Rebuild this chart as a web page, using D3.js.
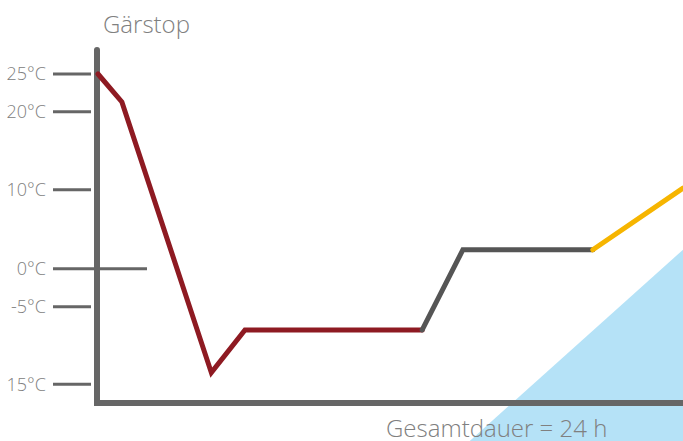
<!DOCTYPE html>
<html>
<head>
<meta charset="utf-8">
<script src="https://cdn.jsdelivr.net/npm/d3@7"></script>
<style>
  body { margin: 0; background: #fff; }
  svg { display: block; font-family: "Open Sans", sans-serif; }
</style>
</head>
<body>
<svg id="viz" width="683" height="441"></svg>
<script>
// temperature ticks (value, label) - the bottom label reads "15°C" in the original
const tickValues = [25, 20, 10, 0, -5, -15];
const tickLabels = ["25°C", "20°C", "10°C", "0°C", "-5°C", "15°C"];

// hours / °C
const redLine = [[0, 25], [0.98, 21.3], [4.65, -13.5], [6.03, -8], [13.3, -8]];
const grayLine = [[13.3, -8], [14.97, 2.4], [20.3, 2.4]];
const yellowLine = [[20.3, 2.4], [24, 10.2]];
const blueArea = [[15.25, -22.3], [24, 2.4], [24, -22.3]];

const W = 683, H = 441;
const C = { axis: "#666", text: "#808080", red: "#8e1a22", gray: "#555", yellow: "#f6b500", blue: "#b5e2f7" };

const svg = d3.select("#viz");

const x = d3.scaleLinear().domain([0, 24]).range([98, 683]);
// ticks in the original are not evenly spaced, so use a piecewise scale
const y = d3.scaleLinear()
    .domain([-15, -5, 0, 10, 20, 25])
    .range([384.3, 306.7, 268.7, 189.7, 111.7, 74]);

const line = d3.line().x(d => x(d[0])).y(d => y(d[1]));

// background triangle
svg.append("path")
    .attr("d", line(blueArea) + "Z")
    .attr("fill", C.blue);

// tick marks + labels
const tick = svg.append("g").selectAll("g")
    .data(tickValues)
    .join("g")
    .attr("transform", d => `translate(0,${y(d)})`);

tick.append("line")
    .attr("x1", 53)
    .attr("x2", d => d === 0 ? 147 : 91)
    .attr("stroke", C.axis)
    .attr("stroke-width", 3);

tick.append("text")
    .attr("x", 46)
    .attr("dy", "0.36em")
    .attr("text-anchor", "end")
    .attr("fill", C.text)
    .style("font-size", "18px")
    .style("font-weight", 300)
    .text((d, i) => tickLabels[i]);

// axes
svg.append("path")
    .attr("d", `M97,50V403H${W}`)
    .attr("fill", "none")
    .attr("stroke", C.axis)
    .attr("stroke-width", 6)
    .attr("stroke-linecap", "round");

// data lines
[[redLine, C.red], [grayLine, C.gray], [yellowLine, C.yellow]].forEach(([pts, col]) => {
    svg.append("path")
        .attr("d", line(pts))
        .attr("fill", "none")
        .attr("stroke", col)
        .attr("stroke-width", 5)
        .attr("stroke-linecap", "round");
});

svg.append("text")
    .attr("x", 103)
    .attr("y", 33)
    .attr("fill", C.text)
    .style("font-size", "24px")
    .style("font-weight", 300)
    .text("Gärstop");

svg.append("text")
    .attr("x", 386)
    .attr("y", 437)
    .attr("fill", C.text)
    .style("font-size", "24px")
    .style("font-weight", 300)
    .text("Gesamtdauer = 24 h");
</script>
</body>
</html>
